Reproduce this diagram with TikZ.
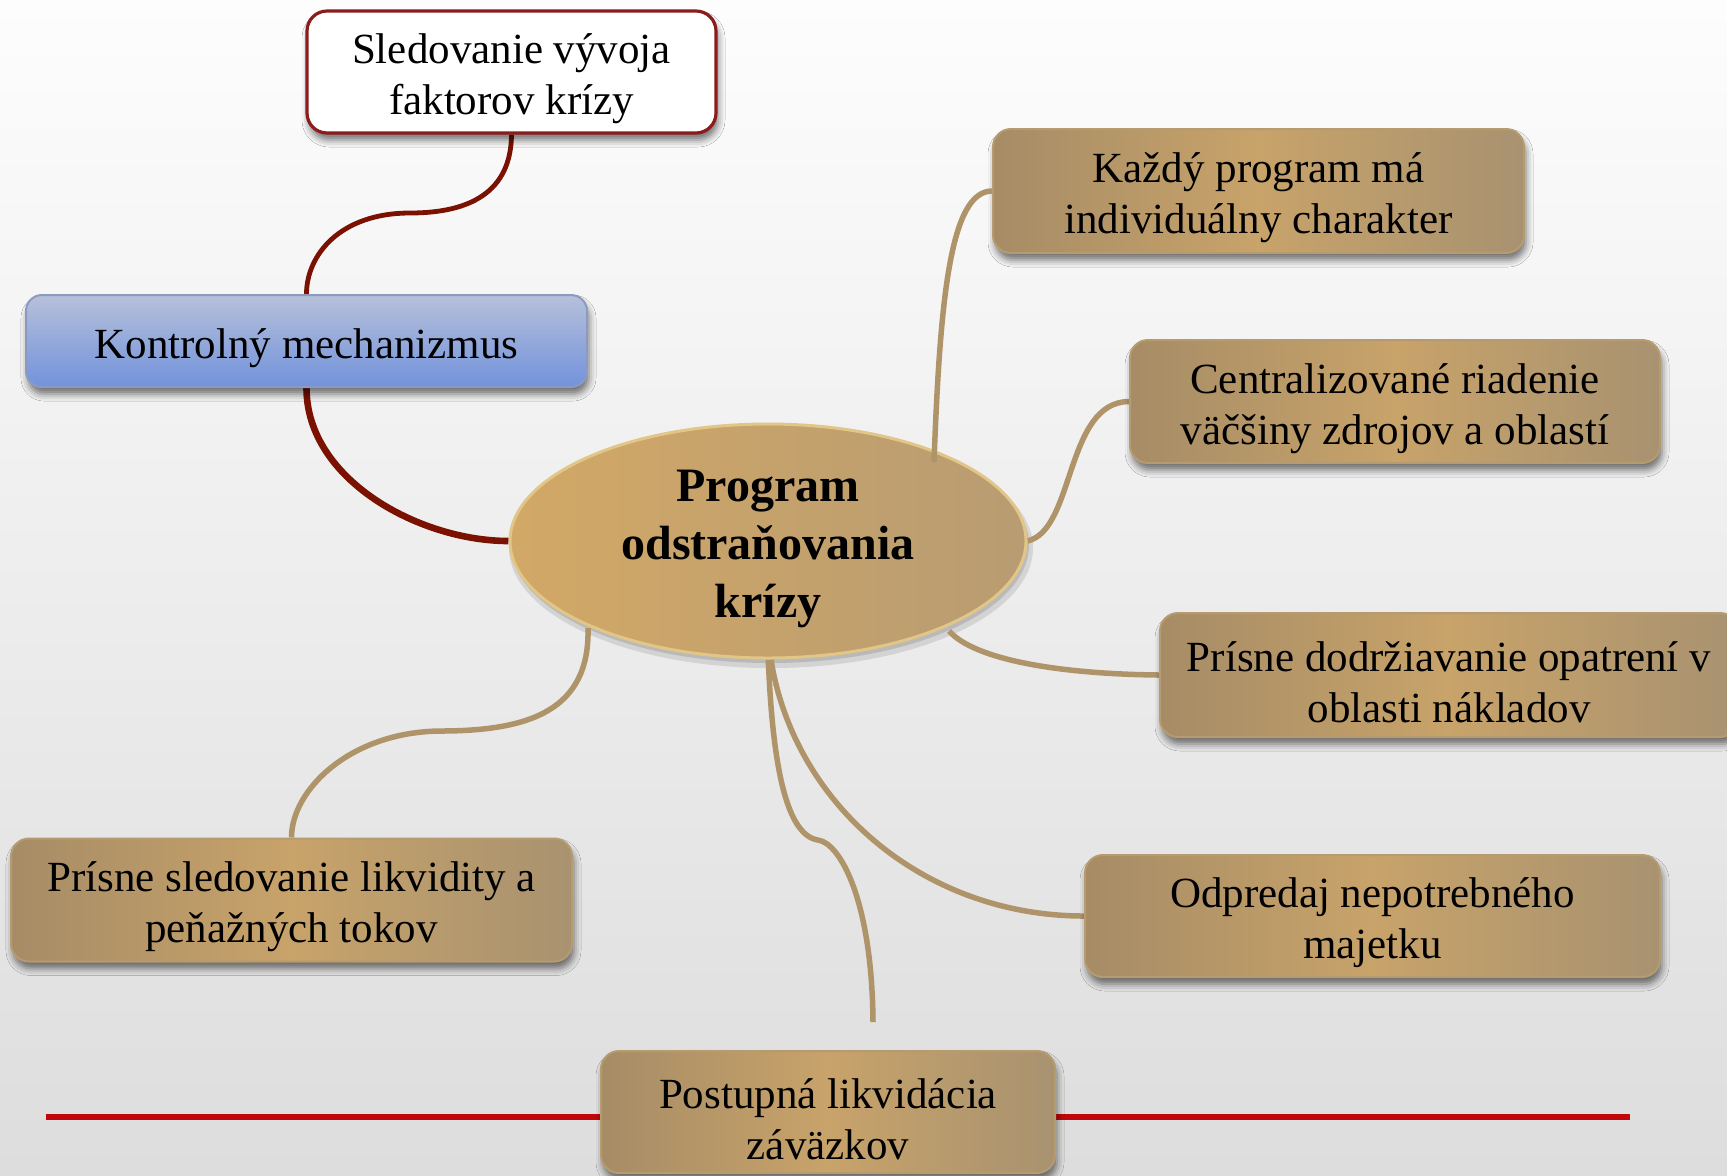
\documentclass[tikz,border=0pt]{standalone}
\usepackage{fontspec}
\setmainfont{Liberation Serif}
\usetikzlibrary{shapes.geometric,shadows.blur}

\definecolor{bgtop}{RGB}{253,253,253}
\definecolor{bgbot}{RGB}{221,221,221}
\definecolor{tanL}{RGB}{166,140,102}
\definecolor{tanM}{RGB}{200,163,106}
\definecolor{tanR}{RGB}{168,146,112}
\definecolor{tanedge}{RGB}{182,155,112}
\definecolor{tanline}{RGB}{176,148,105}
\definecolor{sledred}{RGB}{139,28,28}
\definecolor{darkred}{RGB}{123,17,0}
\definecolor{blueT}{RGB}{182,192,218}
\definecolor{blueB}{RGB}{114,146,220}
\definecolor{blueedge}{RGB}{140,154,194}
\definecolor{rulered}{RGB}{192,8,12}
\definecolor{goldA}{RGB}{210,168,102}
\definecolor{goldB}{RGB}{184,156,114}
\definecolor{goldrim}{RGB}{226,198,136}

\pgfdeclarelayer{lines}
\pgfdeclarelayer{nodes}
\pgfdeclarelayer{top}
\pgfsetlayers{main,lines,nodes,top}

\begin{document}
\begin{tikzpicture}[x=0.5pt,y=-0.5pt,
  txt/.style={font=\fontsize{21.5}{25.5}\selectfont, align=center, inner sep=0pt, text=black},
  caption/.style={label={[txt, yshift=-3.5pt]center:{#1}}},
  softshadow/.style={blur shadow={shadow xshift=1pt, shadow yshift=-3.5pt, shadow blur radius=3.5pt, shadow opacity=55}},
  card/.style={rectangle, inner sep=0pt, rounded corners=9pt, draw=tanedge, line width=1pt,
    left color=tanL, right color=tanR, middle color=tanM, softshadow},
  bluecard/.style={rectangle, inner sep=0pt, rounded corners=8pt, draw=blueedge, line width=1pt,
    top color=blueT, bottom color=blueB, softshadow},
  whitecard/.style={rectangle, inner sep=0pt, rounded corners=10pt, draw=sledred, line width=1.6pt,
    fill=white, softshadow},
  hub/.style={ellipse, inner sep=0pt, draw=goldrim, line width=1.5pt,
    left color=goldA, right color=goldB,
    label={[font=\fontsize{24}{29}\selectfont\bfseries, align=center, text=black, inner sep=0pt, yshift=-3.8pt]center:{#1}}},
  link/.style={draw=tanline, line width=2.75pt},
  redlink/.style={draw=darkred, line width=2.4pt},
  redlinkthick/.style={draw=darkred, line width=3.3pt},
  rule/.style={draw=rulered, line width=2.6pt}
]

% page and background
\clip (0,0) rectangle (1727,1175);
\shade[top color=bgtop, bottom color=bgbot] (0,0) rectangle (1727,1175);
\coordinate (ruleL) at (46,1117);
\coordinate (ruleR) at (1630,1117);
\draw[rule] (ruleL) -- (ruleR);

\begin{pgfonlayer}{nodes}
  % central topic
  \node[hub={Program\\odstraňovania\\krízy}, minimum width=258pt, minimum height=117pt] (prog) at (768,541) {};

  % control branch
  \node[whitecard, caption={Sledovanie vývoja\\faktorov krízy},
        minimum width=204.5pt, minimum height=61pt] (sled) at (511.5,72) {};
  \node[bluecard, caption={Kontrolný mechanizmus},
        minimum width=280.5pt, minimum height=46pt] (kontrol) at (306.5,341) {};

  % program measures
  \node[card, caption={Každý program má\\individuálny charakter},
        minimum width=265.5pt, minimum height=62pt] (kazdy) at (1258.5,191) {};
  \node[card, caption={Centralizované riadenie\\väčšiny zdrojov a oblastí},
        minimum width=265pt, minimum height=61.5pt] (central) at (1395,401.5) {};
  \node[card, caption={Prísne dodržiavanie opatrení v\\oblasti nákladov},
        minimum width=289pt, minimum height=62pt] (naklady) at (1449,675) {};
  \node[card, caption={Odpredaj nepotrebného\\majetku},
        minimum width=287.5pt, minimum height=61pt] (majetok) at (1372.5,916) {};
  \node[card, caption={Postupná likvidácia\\záväzkov},
        minimum width=227pt, minimum height=61pt] (zavazky) at (828,1112) {};
  \node[card, caption={Prísne sledovanie likvidity a\\peňažných tokov},
        minimum width=280.5pt, minimum height=61.5pt] (likvidita) at (291.5,900) {};
\end{pgfonlayer}

\coordinate (zavEnd) at (873,1022);

% connectors and the soft shadow of the ellipse, behind the shapes
\begin{pgfonlayer}{lines}
  \fill[black, opacity=0.10] ([shift={(3,7)}]prog.center) ellipse [x radius=131pt, y radius=60pt];
  \fill[black, opacity=0.12] ([shift={(2,4)}]prog.center) ellipse [x radius=129.5pt, y radius=59pt];
  \draw[redlink] (sled.south) .. controls (511,192) and (470,213) .. (410,213)
        .. controls (340,213) and (306.5,255) .. (kontrol.north);
  \draw[redlinkthick] (kontrol.south) .. controls (306.5,480) and (420,541) .. (prog.west);
  \draw[link] (prog.east) .. controls (1075,530) and (1065,402) .. (central.west);
  \draw[link] ([shift={(181,90)}]prog.center) .. controls (975,660) and (1060,674) .. (naklady.west);
  \draw[link] ([shift={(2,112)}]prog.center) .. controls (790,800) and (920,916) .. (majetok.west);
  \draw[link] ([shift={(0,112)}]prog.center) .. controls (772,760) and (785,835) .. (818,840)
        .. controls (840,843) and (872,900) .. (zavEnd);
  \draw[link] ([shift={(-180,87)}]prog.center) .. controls (590,710) and (530,731) .. (440,731)
        .. controls (350,732) and (291.5,790) .. (likvidita.north);
\end{pgfonlayer}

% this branch overlaps the central ellipse
\begin{pgfonlayer}{top}
  \draw[link] ([shift={(166,-79)}]prog.center) .. controls (940,300) and (950,191) .. (kazdy.west);
\end{pgfonlayer}

\end{tikzpicture}
\end{document}
